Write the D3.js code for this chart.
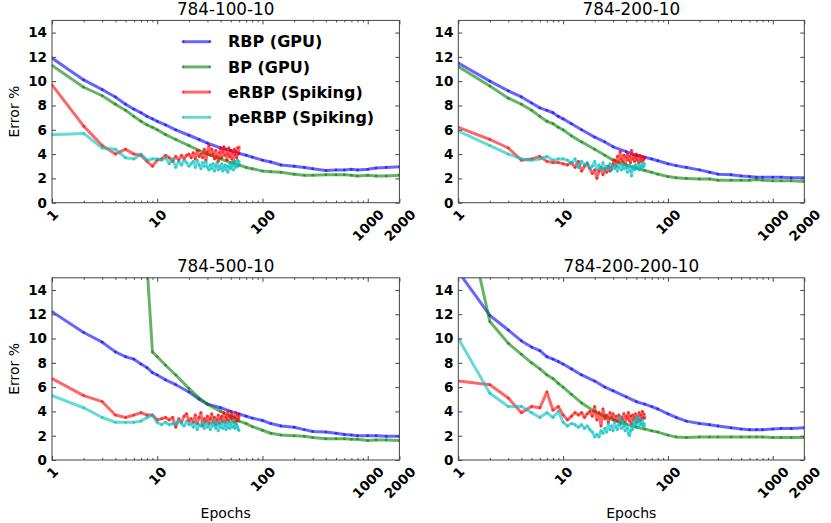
<!DOCTYPE html>
<html>
<head>
<meta charset="utf-8">
<script src="https://cdnjs.cloudflare.com/ajax/libs/d3/7.8.5/d3.min.js"></script>
<style>
  body { margin: 0; background: #fff; }
  text { font-family: "DejaVu Sans", sans-serif; }
</style>
</head>
<body>
<script>
var gpuEpochs = [1, 2, 3, 4, 5, 6, 7, 8, 9, 10, 12, 15, 20, 25, 30, 40, 50, 60, 70, 80,
                 100, 120, 150, 200, 250, 300, 400, 500, 600, 700, 800, 1000, 1200, 1500, 2000];
// spiking runs: one value per epoch, 1..60
var spikeEpochs = d3.range(1, 61);

var xTicks = [1, 10, 100, 1000, 2000];
var yTicks = [0, 2, 4, 6, 8, 10, 12, 14];
var seriesNames = ["RBP (GPU)", "BP (GPU)", "eRBP (Spiking)", "peRBP (Spiking)"];
var colours = ["#0000ff", "#008000", "#ff0000", "#00bfbf"];
var titles = ["784-100-10", "784-200-10", "784-500-10", "784-200-200-10"];

// 784-100-10
var rbp_100 = [11.9, 10.1, 9.3, 8.7, 8.1, 7.7, 7.4, 7.1, 6.9, 6.7, 6.4, 6.0, 5.55, 5.2, 4.9, 4.5, 4.3, 4.05, 3.9, 3.75,
               3.5, 3.35, 3.1, 3.0, 2.9, 2.8, 2.65, 2.7, 2.7, 2.75, 2.7, 2.75, 2.85, 2.9, 2.95];
var bp_100 = [11.3, 9.5, 8.8, 8.1, 7.6, 7.1, 6.7, 6.4, 6.2, 6.0, 5.6, 5.2, 4.7, 4.3, 4.0, 3.6, 3.3, 3.1, 2.9, 2.8,
              2.6, 2.55, 2.5, 2.35, 2.25, 2.25, 2.3, 2.3, 2.3, 2.25, 2.2, 2.25, 2.2, 2.2, 2.25];
var erbp_100 = [9.7, 6.3, 4.7, 4.0, 4.4, 4.0, 3.9, 3.4, 3.0, 3.5,
                3.6, 3.9, 3.7, 3.4, 3.8, 3.5, 3.9, 3.6, 3.9, 4.0,
                3.7, 4.1, 3.6, 4.3, 3.8, 4.0, 3.7, 4.4, 3.5, 4.2,
                4.7, 3.9, 4.4, 4.0, 3.6, 4.3, 3.8, 3.4, 4.1, 4.5,
                3.7, 4.2, 4.6, 3.9, 4.4, 3.5, 4.0, 4.5, 3.8, 4.3,
                3.6, 4.1, 3.3, 4.4, 3.9, 4.2, 3.7, 4.5, 4.0, 4.6];
var perbp_100 = [5.6, 5.7, 4.5, 4.4, 3.7, 3.6, 4.0, 3.5, 3.6, 3.6,
                 3.5, 3.7, 3.2, 3.6, 2.9, 3.4, 3.1, 3.5, 3.3, 3.0,
                 3.2, 3.4, 2.9, 3.5, 3.1, 2.8, 3.3, 3.0, 3.4, 2.9,
                 2.7, 3.1, 2.8, 3.2, 2.6, 3.0, 3.3, 2.7, 3.0, 2.8,
                 3.2, 2.6, 2.9, 3.1, 2.7, 3.0, 2.5, 2.9, 3.2, 2.8,
                 3.0, 3.3, 2.7, 3.1, 3.4, 2.9, 3.2, 3.5, 3.0, 3.4];

// 784-200-10
var rbp_200 = [11.5, 10.0, 9.2, 8.7, 8.2, 7.8, 7.6, 7.4, 7.1, 6.9, 6.5, 6.0, 5.4, 5.0, 4.6, 4.2, 3.9, 3.75, 3.6, 3.45,
               3.2, 3.05, 2.9, 2.7, 2.5, 2.35, 2.3, 2.2, 2.15, 2.1, 2.1, 2.1, 2.1, 2.05, 2.05];
var bp_200 = [11.2, 9.6, 8.6, 8.1, 7.6, 7.1, 6.7, 6.5, 6.2, 6.0, 5.5, 5.0, 4.4, 3.9, 3.5, 3.1, 2.85, 2.65, 2.5, 2.35,
              2.15, 2.05, 2.0, 1.95, 1.95, 1.85, 1.85, 1.85, 1.85, 1.9, 1.85, 1.8, 1.8, 1.8, 1.75];
var erbp_200 = [6.2, 5.2, 4.5, 3.5, 3.6, 3.8, 3.4, 3.3, 3.3, 3.2,
                3.1, 3.3, 2.9, 3.4, 2.6, 3.0, 3.2, 2.8, 2.4, 2.7,
                2.0, 2.6, 2.9, 2.3, 2.8, 2.5, 3.0, 2.6, 2.9, 3.2,
                3.5, 3.0, 3.8, 3.3, 4.2, 3.6, 3.4, 3.9, 3.2, 3.7,
                4.0, 3.5, 3.8, 3.3, 4.3, 3.6, 3.9, 3.4, 3.7, 4.0,
                3.5, 3.8, 3.3, 3.9, 3.6, 3.4, 3.8, 3.5, 3.7, 3.6];
var perbp_200 = [5.9, 4.7, 4.0, 3.6, 3.5, 3.6, 3.8, 3.5, 3.6, 3.6,
                 3.5, 3.2, 3.6, 2.9, 3.4, 3.1, 3.3, 2.8, 3.0, 3.4,
                 2.7, 3.1, 2.8, 3.3, 2.6, 3.0, 2.8, 3.2, 2.7, 3.0,
                 2.8, 3.1, 2.6, 2.9, 3.2, 2.7, 3.0, 2.8, 3.1, 2.9,
                 2.5, 2.9, 3.1, 2.6, 2.2, 2.8, 3.0, 2.7, 3.1, 2.8,
                 2.9, 3.2, 2.7, 3.0, 2.8, 3.1, 2.9, 3.3, 3.0, 3.2];

// 784-500-10
var rbp_500 = [12.2, 10.5, 9.7, 8.9, 8.5, 8.3, 7.9, 7.6, 7.2, 7.0, 6.6, 6.2, 5.6, 5.0, 4.6, 4.3, 4.0, 3.8, 3.6, 3.45,
               3.25, 3.0, 2.8, 2.7, 2.5, 2.35, 2.3, 2.2, 2.1, 2.05, 2.0, 2.0, 2.0, 1.95, 1.95];
var bp_500 = [null, null, null, null, null, null, null, 16, 8.9, 8.5, 7.8, 7.0, 5.9, 5.1, 4.6, 4.0, 3.6, 3.2, 3.0, 2.75,
              2.45, 2.2, 2.05, 2.0, 1.95, 1.85, 1.75, 1.75, 1.75, 1.7, 1.7, 1.6, 1.65, 1.65, 1.6];
var erbp_500 = [6.7, 5.3, 4.8, 3.7, 3.5, 3.7, 3.9, 3.7, 3.7, 3.3,
                3.4, 3.5, 3.3, 3.5, 2.7, 3.4, 3.1, 3.6, 3.8, 3.2,
                3.4, 3.1, 3.7, 3.0, 3.5, 3.9, 2.8, 3.4, 3.2, 3.6,
                3.0, 3.4, 3.8, 3.1, 3.5, 2.9, 3.3, 3.7, 3.0, 3.4,
                3.6, 3.2, 3.9, 3.1, 3.5, 3.3, 4.0, 3.2, 3.6, 3.4,
                3.8, 3.3, 3.6, 3.1, 3.5, 3.9, 3.2, 3.7, 3.4, 3.6];
var perbp_500 = [5.3, 4.3, 3.5, 3.1, 3.1, 3.1, 3.2, 3.5, 3.7, 3.1,
                 2.9, 3.1, 2.9, 3.0, 2.9, 3.3, 3.0, 2.8, 3.2, 2.9,
                 3.0, 2.7, 3.1, 2.5, 2.9, 2.8, 3.2, 2.6, 3.0, 2.7,
                 2.9, 2.5, 3.0, 2.8, 3.3, 2.6, 2.9, 2.4, 3.1, 2.7,
                 3.0, 2.6, 3.2, 2.8, 2.5, 3.0, 2.7, 3.1, 2.6, 2.9,
                 3.1, 2.7, 3.3, 2.8, 2.6, 3.0, 2.9, 2.7, 2.5, 2.4];

// 784-200-200-10
var rbp_200200 = [15.5, 11.9, 10.7, 9.8, 9.3, 9.0, 8.5, 8.3, 8.1, 7.9, 7.5, 7.0, 6.5, 6.0, 5.7, 5.2, 4.8, 4.6, 4.4, 4.2,
                  3.8, 3.5, 3.2, 3.0, 2.9, 2.8, 2.65, 2.55, 2.5, 2.5, 2.5, 2.55, 2.6, 2.6, 2.65];
var bp_200200 = [23, 11.4, 9.6, 8.7, 8.0, 7.5, 7.0, 6.7, 6.3, 6.0, 5.4, 4.7, 4.0, 3.6, 3.3, 2.95, 2.7, 2.55, 2.4, 2.3,
                 2.05, 1.9, 1.85, 1.9, 1.9, 1.9, 1.9, 1.9, 1.9, 1.9, 1.9, 1.85, 1.85, 1.85, 1.85];
var erbp_200200 = [6.5, 6.2, 5.1, 3.9, 4.4, 4.3, 5.6, 4.1, 4.4, 3.7,
                   3.3, 3.6, 3.9, 3.7, 3.9, 3.5, 3.8, 4.0, 3.6, 4.4,
                   3.3, 3.9, 2.8, 4.2, 3.4, 3.7, 3.1, 3.9, 3.5, 3.8,
                   3.3, 3.6, 3.2, 3.7, 3.0, 3.5, 3.3, 3.8, 3.1, 3.6,
                   3.4, 3.9, 3.2, 3.6, 3.0, 3.7, 3.3, 3.5, 3.8, 3.1,
                   3.6, 3.3, 3.9, 3.2, 3.7, 3.4, 4.0, 3.5, 3.8, 3.4];
var perbp_200200 = [10.0, 5.5, 4.4, 4.4, 3.9, 3.5, 3.9, 3.5, 4.0, 3.1,
                    2.8, 3.0, 2.9, 2.7, 2.9, 2.6, 2.8, 2.5, 2.3, 1.9,
                    2.1, 1.9, 2.4, 2.2, 2.6, 2.3, 3.0, 2.5, 2.8, 2.4,
                    3.1, 2.7, 2.5, 2.9, 3.6, 2.6, 3.2, 2.8, 2.4, 3.0,
                    2.6, 2.2, 2.0, 2.4, 2.8, 2.5, 3.0, 3.3, 2.9, 3.6,
                    3.1, 2.7, 3.2, 3.4, 2.9, 3.0, 3.3, 2.8, 3.0, 2.8];

var panels = [
  {title: titles[0], left: 52,    right: 399.4, top: 20.4,  bottom: 202.7, ylabel: true,  xlabel: false, legend: true,
   data: [rbp_100, bp_100, erbp_100, perbp_100]},
  {title: titles[1], left: 458.3, right: 804.3, top: 20.4,  bottom: 202.7, ylabel: false, xlabel: false, legend: false,
   data: [rbp_200, bp_200, erbp_200, perbp_200]},
  {title: titles[2], left: 52,    right: 399.4, top: 277.8, bottom: 460,   ylabel: true,  xlabel: true,  legend: false,
   data: [rbp_500, bp_500, erbp_500, perbp_500]},
  {title: titles[3], left: 458.3, right: 804.3, top: 277.8, bottom: 460,   ylabel: false, xlabel: true,  legend: false,
   data: [rbp_200200, bp_200200, erbp_200200, perbp_200200]}
];

var width = 831, height = 523;

var svg = d3.select("body").append("svg")
    .attr("width", width)
    .attr("height", height);

// minor log ticks 2..9 of each decade
var minorTicks = [];
[1, 10, 100, 1000].forEach(function(dec) {
  for (var k = 2; k <= 9; k++) {
    if (dec * k < 2000) minorTicks.push(dec * k);
  }
});

function pairs(values, i) {
  var epochs = (i < 2) ? gpuEpochs : spikeEpochs;
  return epochs.map(function(e, j) { return [e, values[j]]; });
}

function drawPanel(p, n) {
  var x = d3.scaleLog().domain([1, 2000]).range([p.left, p.right]);
  var y = d3.scaleLinear().domain([0, 15]).range([p.bottom, p.top]);

  var g = svg.append("g").attr("class", "panel");

  g.append("clipPath")
      .attr("id", "clip_" + n)
    .append("rect")
      .attr("x", p.left)
      .attr("y", p.top)
      .attr("width", p.right - p.left)
      .attr("height", p.bottom - p.top);

  var line = d3.line()
      .defined(function(d) { return d[1] != null; })
      .x(function(d) { return x(d[0]); })
      .y(function(d) { return y(d[1]); });

  var plot = g.append("g").attr("clip-path", "url(#clip_" + n + ")");

  p.data.forEach(function(values, i) {
    var pts = pairs(values, i);
    plot.append("path")
        .attr("d", line(pts))
        .attr("fill", "none")
        .attr("stroke", colours[i])
        .attr("stroke-width", 3)
        .attr("stroke-opacity", 0.6)
        .attr("stroke-linejoin", "round");
    plot.selectAll(null)
        .data(pts.filter(function(d) { return d[1] != null; }))
      .enter().append("circle")
        .attr("cx", function(d) { return x(d[0]); })
        .attr("cy", function(d) { return y(d[1]); })
        .attr("r", 1.4)
        .attr("fill", colours[i])
        .attr("fill-opacity", 0.6);
  });

  // axes: ticks pointing inwards on all four sides
  var yl = g.append("g")
      .attr("transform", "translate(" + p.left + ",0)")
      .call(d3.axisLeft(y).tickValues(yTicks).tickSize(-4).tickSizeOuter(0).tickPadding(5));
  g.append("g")
      .attr("transform", "translate(" + p.right + ",0)")
      .call(d3.axisRight(y).tickValues(yTicks).tickSize(-4).tickSizeOuter(0).tickFormat(""));

  var xb = g.append("g")
      .attr("transform", "translate(0," + p.bottom + ")")
      .call(d3.axisBottom(x).tickValues(xTicks).tickSize(-4).tickSizeOuter(0).tickFormat(d3.format("d")));
  g.append("g")
      .attr("transform", "translate(0," + p.bottom + ")")
      .call(d3.axisBottom(x).tickValues(minorTicks).tickSize(-2).tickSizeOuter(0).tickFormat(""));
  g.append("g")
      .attr("transform", "translate(0," + p.top + ")")
      .call(d3.axisTop(x).tickValues(xTicks).tickSize(-4).tickSizeOuter(0).tickFormat(""));
  g.append("g")
      .attr("transform", "translate(0," + p.top + ")")
      .call(d3.axisTop(x).tickValues(minorTicks).tickSize(-2).tickSizeOuter(0).tickFormat(""));

  g.selectAll(".domain").remove();
  g.selectAll(".tick line").attr("stroke", "#444");

  yl.selectAll("text")
      .style("font-size", "13.5px")
      .style("font-weight", "bold")
      .attr("fill", "#000");

  xb.selectAll("text")
      .style("font-size", "13.5px")
      .style("font-weight", "bold")
      .attr("fill", "#000")
      .attr("text-anchor", "middle")
      .each(function() {
        var w = this.getComputedTextLength();
        d3.select(this)
            .attr("y", null)
            .attr("dy", "0.35em")
            .attr("transform", "translate(0," + (4 + (w + 15) / 2.83) + ") rotate(-45)");
      });

  g.append("rect")
      .attr("x", p.left)
      .attr("y", p.top)
      .attr("width", p.right - p.left)
      .attr("height", p.bottom - p.top)
      .attr("fill", "none")
      .attr("stroke", "#444")
      .attr("stroke-width", 1);

  g.append("text")
      .attr("x", (p.left + p.right) / 2)
      .attr("y", p.top - 5.5)
      .attr("text-anchor", "middle")
      .style("font-size", "16.8px")
      .text(p.title);

  if (p.ylabel) {
    g.append("text")
        .attr("transform", "translate(14," + ((p.top + p.bottom) / 2) + ") rotate(-90)")
        .attr("text-anchor", "middle")
        .attr("dy", "0.35em")
        .style("font-size", "14px")
        .text("Error %");
  }

  if (p.xlabel) {
    g.append("text")
        .attr("x", (p.left + p.right) / 2)
        .attr("y", 518)
        .attr("text-anchor", "middle")
        .style("font-size", "14px")
        .text("Epochs");
  }

  if (p.legend) {
    var leg = g.append("g").attr("class", "legend");
    seriesNames.forEach(function(name, i) {
      var ly = 41.7 + i * 25.2;
      leg.append("line")
          .attr("x1", 183).attr("x2", 210)
          .attr("y1", ly).attr("y2", ly)
          .attr("stroke", colours[i])
          .attr("stroke-width", 3)
          .attr("stroke-opacity", 0.6);
      [183, 210].forEach(function(cx) {
        leg.append("circle")
            .attr("cx", cx).attr("cy", ly).attr("r", 1.4)
            .attr("fill", colours[i]).attr("fill-opacity", 0.6);
      });
      leg.append("text")
          .attr("x", 228)
          .attr("y", ly)
          .attr("dy", "0.35em")
          .style("font-size", "16px")
          .style("font-weight", "bold")
          .text(name);
    });
  }
}

panels.forEach(drawPanel);
</script>
</body>
</html>
